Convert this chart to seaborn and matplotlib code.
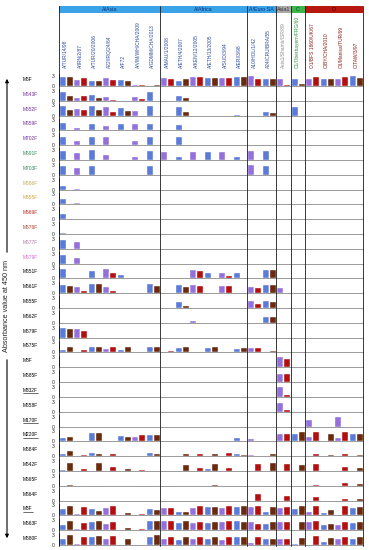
import numpy as np
import pandas as pd
import matplotlib
matplotlib.use("Agg")
import matplotlib.pyplot as plt
import seaborn as sns
from matplotlib.patches import Rectangle
from matplotlib.lines import Line2D

# strains (columns) and serotype groups
strains = ["A/TUR/14/98", "A/IRN/2/87", "A/TUR/20/2006", "A22/IRQ/24/64", "A/F72",
           "A/VIM/WH/CHA/2009", "A/GDMM/CHA/2013", "A/MAU/1/2008", "A/ETH/4/2007",
           "A/KEN/12/2005", "A/ETH/13/2005", "A/SUD/3/94", "A/ERI/3/98",
           "A10/HOL/1/42", "A24/CRU/BRA/55", "Asia1/Shamir/ISR/89", "C1/Oberbayern/FRG/60",
           "O1/BFS 1860/UK/67", "O/BY/CHA/2010", "O1/Manisa/TUR/69", "O/TAW/3/97"]
groups = ["A/Asia", "A/Africa", "A/Euro SA", "Asia1", "C", "O"]
group_sizes = [7, 6, 2, 1, 1, 4]

# mAb rows, two bars per strain (a = first sample, b = second sample)
m6f_a = [3.0, 2.0, 1.8, 2.6, 2.1, 0.6, 0.3, 2.8, 1.8, 3.0, 2.6, 2.6, 3.0, 3.2, 2.5, 2.3, 2.3, 2.5, 2.5, 2.5, 3.3]
m6f_b = [3.0, 2.6, 1.8, 2.1, 1.8, 0.6, 0.6, 2.5, 2.3, 3.0, 2.6, 2.6, 3.0, 2.5, 2.5, 0.6, 0.8, 3.0, 2.5, 3.0, 2.6]
m643f_a = [2.9, 1.0, 2.0, 1.5, 0, 1.5, 2.8, 0, 1.8, 0, 0, 0, 0, 0, 0, 0, 0, 0, 0, 0, 0]
m643f_b = [1.8, 1.8, 1.0, 0.6, 0, 0.8, 0, 0, 1.2, 0, 0, 0, 0, 0, 0, 0, 0, 0, 0, 0, 0]
m652f_a = [3.0, 2.3, 3.2, 2.8, 2.5, 1.8, 3.0, 0.1, 2.8, 0, 0, 0, 0.4, 0, 1.3, 0, 2.8, 0, 0, 0, 0]
m652f_b = [2.0, 2.0, 2.0, 1.3, 1.8, 0.3, 0, 0, 1.5, 0, 0, 0, 0, 0, 1.0, 0, 0.1, 0, 0, 0, 0]
m659f_a = [2.6, 1.0, 2.3, 1.5, 2.3, 2.3, 2.3, 0, 2.0, 0, 0, 0, 0, 0, 0, 0, 0, 0, 0, 0, 0]
m659f_b = [0] * 21
m702f_a = [2.8, 1.5, 2.8, 2.8, 0, 1.5, 2.8, 0, 2.8, 0, 0, 0, 0, 0, 0.4, 0, 0, 0, 0, 0, 0]
m702f_b = [0] * 21
m691f_a = [3.0, 2.3, 3.2, 1.8, 0, 1.3, 3.0, 2.8, 1.3, 2.8, 2.8, 2.8, 1.3, 3.0, 3.0, 0, 0, 0, 0, 0, 0]
m691f_b = [0] * 21
m703f_a = [2.8, 2.3, 3.0, 0, 0, 0, 3.0, 0, 0, 0, 0, 0, 0, 3.2, 2.8, 0, 0, 0, 0, 0, 0]
m703f_b = [0] * 21
m686f_a = [1.5, 0.6, 0, 0, 0, 0, 0, 0, 0, 0, 0, 0, 0, 0, 0, 0, 0, 0, 0, 0, 0]
m686f_b = [0] * 21
m655fy_a = [1.8, 0.6, 0, 0, 0, 0.1, 0, 0, 0, 0, 0, 0, 0, 0, 0, 0, 0, 0, 0, 0, 0]
m655fy_b = [0] * 21
m669f_a = [1.8, 0, 0, 0, 0, 0, 0, 0, 0, 0, 0, 0, 0, 0, 0, 0, 0, 0, 0, 0, 0]
m669f_b = [0] * 21
m676f_a = [0.5, 0, 0, 0, 0, 0, 0, 0, 0, 0, 0, 0, 0, 0, 0, 0, 0, 0, 0, 0, 0]
m676f_b = [0] * 21
m677f_a = [3.0, 2.3, 0, 0, 0, 0, 0, 0, 0, 0, 0, 0, 0, 0, 0, 0, 0, 0, 0, 0, 0]
m677f_b = [0] * 21
m679fp_a = [3.0, 2.0, 0, 0, 0, 0, 0, 0, 0, 0, 0, 0, 0, 0, 0, 0, 0, 0, 0, 0, 0]
m679fp_b = [0] * 21
m651f_a = [3.1, 0, 2.5, 3.2, 1.3, 0.2, 0, 0, 0, 2.8, 1.8, 2.0, 2.0, 0, 2.8, 0, 0, 0, 0, 0, 0]
m651f_b = [0.3, 0, 0, 1.9, 0, 0, 0, 0, 0, 2.5, 0.1, 1.1, 0, 0, 2.8, 0, 0, 0, 0, 0, 0]
m661f_a = [2.8, 2.3, 3.2, 2.3, 0.1, 0, 3.0, 0.5, 2.8, 2.8, 0, 2.5, 0, 2.3, 2.8, 2.0, 0, 0, 0, 0, 0]
m661f_b = [2.5, 1.0, 3.2, 1.0, 0, 0, 2.5, 0, 2.3, 2.5, 0, 2.5, 0, 1.8, 2.8, 0.2, 0, 0, 0, 0, 0]
m655f_a = [0, 0, 0, 0, 0, 0, 0, 0, 2.0, 0, 0, 0, 0, 2.4, 2.5, 0, 0, 0, 0, 0, 0]
m655f_b = [0, 0, 0, 0, 0, 0, 0, 0, 1.0, 0, 0, 0, 0, 1.4, 2.2, 0, 0, 0, 0, 0, 0]
m662f_a = [0, 0, 0, 0, 0, 0, 0, 0, 0, 1.0, 0, 0, 0, 0, 2.0, 0, 0, 0, 0, 0, 0]
m662f_b = [0, 0, 0, 0, 0, 0, 0, 0, 0, 0.1, 0, 0, 0, 0, 2.0, 0, 0, 0, 0, 0, 0]
m679f_a = [3.2, 2.8, 0, 0, 0, 0, 0, 0, 0, 0, 0, 0, 0, 0, 0, 0, 0, 0, 0, 0, 0]
m679f_b = [2.8, 2.3, 0, 0, 0, 0, 0, 0, 0, 0, 0, 0, 0, 0, 0, 0, 0, 0, 0, 0, 0]
m675f_a = [0.9, 0.2, 1.8, 1.4, 1.0, 0, 1.8, 0.1, 1.5, 0, 1.5, 0, 1.3, 1.5, 0.4, 0, 0, 0, 0, 0, 0]
m675f_b = [1.8, 1.0, 1.9, 1.8, 1.8, 0.2, 1.8, 0.6, 1.8, 0.2, 1.8, 0.1, 1.5, 1.5, 0.8, 0, 0, 0, 0, 0, 0]
m8f_a = [0, 0, 0, 0, 0, 0, 0, 0, 0, 0, 0, 0, 0, 0, 0, 3.4, 0, 0, 0, 0, 0]
m8f_b = [0, 0, 0, 0, 0, 0, 0, 0, 0, 0, 0, 0, 0, 0, 0, 2.7, 0, 0, 0, 0, 0]
m685f_a = [0, 0, 0, 0, 0, 0, 0, 0, 0, 0, 0, 0, 0, 0, 0, 2.8, 0, 0, 0, 0, 0]
m685f_b = [0, 0, 0, 0, 0, 0, 0, 0, 0, 0, 0, 0, 0, 0, 0, 2.6, 0, 0, 0, 0, 0]
m332f_a = [0, 0, 0, 0, 0, 0, 0, 0, 0, 0, 0, 0, 0, 0, 0, 3.2, 0, 0, 0, 0, 0]
m332f_b = [0, 0, 0, 0, 0, 0, 0, 0, 0, 0, 0, 0, 0, 0, 0, 1.0, 0, 0, 0, 0, 0]
m658f_a = [0, 0, 0, 0, 0, 0, 0, 0, 0, 0, 0, 0, 0, 0, 0, 2.8, 0, 0, 0, 0, 0]
m658f_b = [0, 0, 0, 0, 0, 0, 0, 0, 0, 0, 0, 0, 0, 0, 0, 0.9, 0, 0, 0, 0, 0]
m170f_a = [0, 0, 0, 0, 0, 0, 0, 0, 0, 0, 0, 0, 0, 0, 0, 0, 0, 2.3, 0, 3.2, 0]
m170f_b = [0, 0, 0, 0, 0, 0, 0.3, 0, 0, 0, 0, 0, 0, 0, 0, 0, 0, 0, 0, 0, 0]
m220f_a = [1.4, 0.1, 2.7, 0, 1.9, 1.6, 2.1, 0, 0.1, 0, 0, 0, 1.2, 0.9, 0, 2.6, 2.6, 1.6, 0.4, 1.4, 2.4]
m220f_b = [1.7, 0, 2.7, 0, 1.6, 2.2, 2.2, 0.1, 0, 0.1, 0, 0.4, 0, 0, 0.3, 2.6, 3.1, 3.1, 2.6, 3.1, 2.6]
m684f_a = [0.8, 0, 1.3, 0, 0, 0, 1.1, 0, 0, 0, 0, 0, 0.8, 0.6, 0, 0, 0, 0, 0, 0, 0]
m684f_b = [1.8, 0.6, 1.0, 0.8, 0, 0, 0.8, 0, 1.0, 0.8, 1.0, 1.1, 0.5, 0.3, 0.8, 0.3, 0.3, 0.8, 0.5, 0.8, 0.6]
m642f_a = [0.5, 0, 0.1, 0, 0, 0, 0, 0, 0, 0, 0.8, 0, 0, 0, 0, 0, 0, 0, 0, 0, 0]
m642f_b = [2.6, 0.8, 2.6, 1.6, 0.8, 0.5, 0, 0, 2.0, 1.3, 2.5, 1.3, 0.1, 2.5, 2.6, 2.5, 2.0, 2.5, 0, 1.6, 1.1]
m665f_a = [0] * 21
m665f_b = [0.4, 0.1, 0, 0.1, 0.1, 0, 0.1, 0, 0.1, 0.3, 0.4, 0, 0, 0.2, 0, 0.3, 0, 0.4, 0, 1.0, 0.7]
m664f_a = [0] * 21
m664f_b = [0, 0, 0, 0, 0, 0, 0, 0, 0, 0, 0, 0, 0, 2.3, 0, 1.6, 0, 1.3, 0, 0.8, 0.8]
m3f_a = [2.1, 0.6, 2.1, 2.4, 0.4, 0, 2.1, 2.4, 1.2, 2.4, 2.8, 2.4, 2.8, 2.8, 1.4, 2.6, 2.1, 1.4, 0.9, 0.3, 2.4]
m3f_b = [3.1, 2.8, 1.6, 3.0, 0.9, 0.8, 1.9, 2.6, 1.4, 3.1, 2.8, 3.1, 3.1, 3.1, 2.9, 2.8, 3.1, 3.1, 1.9, 3.1, 2.9]
m663f_a = [2.0, 0.8, 2.8, 2.3, 0.3, 0.5, 3.0, 3.0, 2.5, 2.5, 2.5, 2.8, 3.0, 2.8, 2.3, 2.8, 0.4, 2.8, 2.0, 1.8, 2.5]
m663f_b = [3.0, 2.5, 3.0, 2.8, 1.0, 0.8, 3.0, 3.0, 3.0, 2.8, 2.8, 3.0, 2.8, 2.3, 2.8, 2.8, 2.8, 3.0, 2.3, 2.8, 2.8]
m680f_a = [2.0, 0.5, 2.8, 2.0, 0.4, 0.1, 2.8, 2.0, 1.8, 2.0, 2.0, 1.8, 2.8, 0.8, 2.0, 2.0, 0.5, 0.4, 1.3, 2.0, 2.0]
m680f_b = [3.2, 2.8, 3.0, 3.0, 2.0, 0, 3.2, 2.8, 2.8, 2.8, 2.8, 2.8, 2.8, 2.8, 2.0, 2.0, 2.5, 3.0, 2.5, 2.8, 2.8]

row_labels = ["M6F", "M643F", "M652F", "M659F", "M702F", "M691F", "M703F", "M686F",
              "M655F", "M669F", "M676F", "M677F", "M679F", "M651F", "M661F", "M655F",
              "M662F", "M679F", "M675F", "M8F", "M685F", "M332F", "M658F", "M170F",
              "M220F", "M684F", "M642F", "M665F", "M664F", "M3F", "M663F", "M680F"]
row_a = [m6f_a, m643f_a, m652f_a, m659f_a, m702f_a, m691f_a, m703f_a, m686f_a,
         m655fy_a, m669f_a, m676f_a, m677f_a, m679fp_a, m651f_a, m661f_a, m655f_a,
         m662f_a, m679f_a, m675f_a, m8f_a, m685f_a, m332f_a, m658f_a, m170f_a,
         m220f_a, m684f_a, m642f_a, m665f_a, m664f_a, m3f_a, m663f_a, m680f_a]
row_b = [m6f_b, m643f_b, m652f_b, m659f_b, m702f_b, m691f_b, m703f_b, m686f_b,
         m655fy_b, m669f_b, m676f_b, m677f_b, m679fp_b, m651f_b, m661f_b, m655f_b,
         m662f_b, m679f_b, m675f_b, m8f_b, m685f_b, m332f_b, m658f_b, m170f_b,
         m220f_b, m684f_b, m642f_b, m665f_b, m664f_b, m3f_b, m663f_b, m680f_b]
underlined = ["M332F", "M170F", "M220F", "M3F"]

purple_lbl = "#7030a0"
green_lbl = "#2e8b57"
label_colors = ["black", purple_lbl, purple_lbl, purple_lbl, purple_lbl, green_lbl, green_lbl,
                "#c4ac58", "#d0a23c", "#c0281c", "#a8402c", "#b07a9c", "#d468d0"] + ["black"] * 19

group_fill = ["#3aa2e6", "#3aa2e6", "#3aa2e6", "#a8a8a8", "#3cb54a", "#b8170f"]
group_text = ["#14307a", "#14307a", "#14307a", "#333333", "#0d4d16", "#3a0000"]
strain_text = ["#2b4aa0", "#2b4aa0", "#2b4aa0", "#8c8c8c", "#2a9a3a", "#8b1a10"]

blue, purple = "#5a7bd8", "#9370db"
red, brown = "#b40f0f", "#6b2a0e"

sns.set_style("white")
plt.rcParams["font.family"] = ["Liberation Sans", "DejaVu Sans"]

W, H = 369, 550
X0, X1 = 58.5, 363.0
fig = plt.figure(figsize=(W / 100, H / 100), dpi=100)
bg = fig.add_axes([0, 0, 1, 1])
bg.set_xlim(0, W)
bg.set_ylim(H, 0)
bg.axis("off")

colw = (X1 - X0) / len(strains)

# header: group bands and strain names
start = 0
bounds = [X0]
for g, n, fc, tc, sc in zip(groups, group_sizes, group_fill, group_text, strain_text):
    xa = X0 + start * colw
    xb = X0 + (start + n) * colw
    bg.add_patch(Rectangle((xa, 6), xb - xa, 7, facecolor=fc, edgecolor="none"))
    bg.text((xa + xb) / 2, 9.6, g, ha="center", va="center", fontsize=3.8, color=tc)
    for i in range(start, start + n):
        bg.text(X0 + (i + 0.5) * colw, 68, strains[i], rotation=90, ha="center", va="bottom",
                fontsize=3.5, color=sc)
    start += n
    bounds.append(xb)

# one small bar panel per mAb
pitch = 14.81
base0 = 85.9
axh = 11.7
for k, (lab, a, b) in enumerate(zip(row_labels, row_a, row_b)):
    base = base0 + pitch * k
    ax = fig.add_axes([X0 / W, 1 - base / H, (X1 - X0) / W, axh / H])
    df = pd.DataFrame({"strain": strains * 2,
                       "od": list(a) + list(b),
                       "serum": ["a"] * len(strains) + ["b"] * len(strains)})
    sns.barplot(data=df, x="strain", y="od", hue="serum", order=strains,
                palette=[blue, brown], width=0.96, gap=0, saturation=1,
                errorbar=None, legend=False, ax=ax)
    for j, bar in enumerate(ax.containers[0]):
        bar.set_facecolor(purple if j % 2 else blue)
    for j, bar in enumerate(ax.containers[1]):
        bar.set_facecolor(red if j % 2 else brown)
    ax.set_xlim(-0.5, len(strains) - 0.5)
    ax.set_ylim(0, 3.5)
    ax.set_yticks([0, 3])
    ax.set_xticks([])
    ax.set_xlabel("")
    ax.set_ylabel("")
    ax.tick_params(axis="y", labelsize=3.6, length=1.5, width=0.4, pad=1)
    ax.patch.set_visible(False)
    for s in ["top", "right"]:
        ax.spines[s].set_visible(False)
    ax.spines["left"].set_linewidth(0.6)
    ax.spines["left"].set_color("black")
    ax.spines["bottom"].set_linewidth(0.6)
    ax.spines["bottom"].set_color("#8a8a8a")
    bg.text(23, base - 6.5, lab, ha="left", va="center", fontsize=3.5, color=label_colors[k])

# group separators
for xb in bounds:
    fig.add_artist(Line2D([xb / W, xb / W], [1 - 6 / H, 1 - 546 / H], color="#1a1a1a", lw=0.6))

# underline some row labels
fig.canvas.draw()
r = fig.canvas.get_renderer()
for t in bg.texts:
    if t.get_text() in underlined and t.get_position()[0] == 23:
        bb = t.get_window_extent(r)
        yb = H - bb.y0 + 0.3
        bg.plot([bb.x0, bb.x1], [yb, yb], color="black", lw=0.4)

# y axis title with arrows
bg.text(7, 306, "Absorbance value at 450 nm", rotation=90, ha="center", va="center", fontsize=5.2)
bg.annotate("", xy=(7, 76), xytext=(7, 255),
            arrowprops=dict(arrowstyle="-|>", color="black", lw=0.8, mutation_scale=5))
bg.annotate("", xy=(7, 541), xytext=(7, 357),
            arrowprops=dict(arrowstyle="-|>", color="black", lw=0.8, mutation_scale=5))

fig.savefig("out.png", dpi=100)
